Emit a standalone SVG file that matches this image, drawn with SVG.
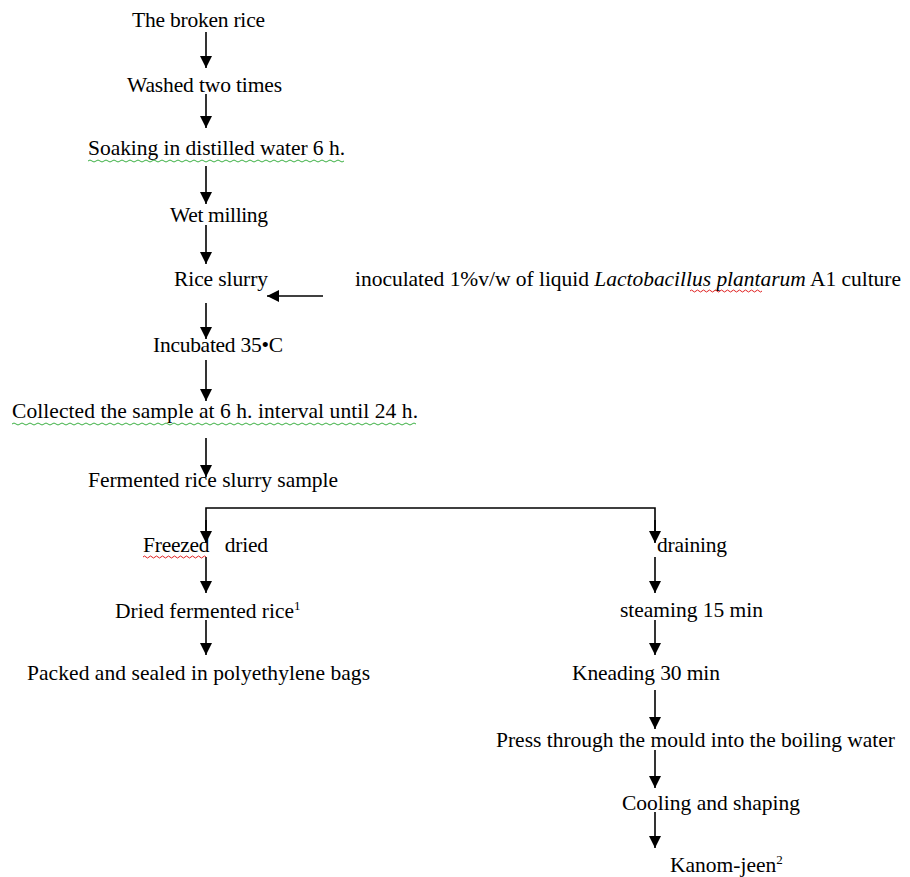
<svg xmlns="http://www.w3.org/2000/svg" width="910" height="877" viewBox="0 0 910 877">
<style>
text{font-family:"Liberation Serif","Times New Roman",serif;font-size:21.5px;fill:#000}
.c{stroke:#000;stroke-width:1.6;fill:none}
.g{stroke:#3cb043;stroke-width:1;fill:none}
.r{stroke:#e02020;stroke-width:1;fill:none}
</style>
<defs>
<marker id="ah" markerUnits="userSpaceOnUse" markerWidth="12" markerHeight="14" viewBox="0 0 12 14" refX="12" refY="7" orient="auto">
<path d="M0,1 L12,7 L0,13 Z" fill="#000"/>
</marker>
</defs>
<rect width="910" height="877" fill="#fff"/>
<g id="connectors">
<line class="c" x1="206" y1="32" x2="206" y2="68" marker-end="url(#ah)"/>
<line class="c" x1="206" y1="94" x2="206" y2="128" marker-end="url(#ah)"/>
<line class="c" x1="206" y1="166" x2="206" y2="204" marker-end="url(#ah)"/>
<line class="c" x1="206" y1="225" x2="206" y2="264" marker-end="url(#ah)"/>
<line class="c" x1="323" y1="296" x2="267" y2="296" marker-end="url(#ah)"/>
<line class="c" x1="206" y1="303" x2="206" y2="339" marker-end="url(#ah)"/>
<line class="c" x1="206" y1="360" x2="206" y2="401" marker-end="url(#ah)"/>
<line class="c" x1="206" y1="438" x2="206" y2="477" marker-end="url(#ah)"/>
<polyline class="c" points="206,542 206,508 655,508 655,542"/>
<line class="c" x1="206" y1="520" x2="206" y2="543" marker-end="url(#ah)"/>
<line class="c" x1="655" y1="520" x2="655" y2="543" marker-end="url(#ah)"/>
<line class="c" x1="206" y1="557" x2="206" y2="593" marker-end="url(#ah)"/>
<line class="c" x1="206" y1="620" x2="206" y2="655" marker-end="url(#ah)"/>
<line class="c" x1="655" y1="557" x2="655" y2="593" marker-end="url(#ah)"/>
<line class="c" x1="655" y1="620" x2="655" y2="655" marker-end="url(#ah)"/>
<line class="c" x1="655" y1="690" x2="655" y2="729" marker-end="url(#ah)"/>
<line class="c" x1="655" y1="750" x2="655" y2="788" marker-end="url(#ah)"/>
<line class="c" x1="655" y1="812" x2="655" y2="848" marker-end="url(#ah)"/>
</g>
<g id="n1"><text x="132" y="27" textLength="133">The broken rice</text></g>
<g id="n2"><text x="127" y="92" textLength="155">Washed two times</text></g>
<g id="n3"><text x="88" y="155" textLength="257">Soaking in distilled water 6 h.</text>
<path class="g" d="M88,161 q2,-2 4,0 t4,0 t4,0 t4,0 t4,0 t4,0 t4,0 t4,0 t4,0 t4,0 t4,0 t4,0 t4,0 t4,0 t4,0 t4,0 t4,0 t4,0 t4,0 t4,0 t4,0 t4,0 t4,0 t4,0 t4,0 t4,0 t4,0 t4,0 t4,0 t4,0 t4,0 t4,0 t4,0 t4,0 t4,0 t4,0 t4,0 t4,0 t4,0 t4,0 t4,0 t4,0 t4,0 t4,0 t4,0 t4,0 t4,0 t4,0 t4,0 t4,0 t4,0 t4,0 t4,0 t4,0 t4,0 t4,0 t4,0 t4,0 t4,0 t4,0 t4,0 t4,0 t4,0 t4,0"/></g>
<g id="n4"><text x="170" y="222" textLength="98">Wet milling</text></g>
<g id="n5"><text x="174" y="286" textLength="94">Rice slurry</text></g>
<g id="n6"><text x="355" y="286" textLength="546">inoculated 1%v/w of liquid <tspan font-style="italic">Lactobacillus plantarum</tspan> A1 culture</text>
<path class="r" d="M690,291 q1.5,-2 3,0 t3,0 t3,0 t3,0 t3,0 t3,0 t3,0 t3,0 t3,0 t3,0 t3,0 t3,0 t3,0 t3,0 t3,0 t3,0 t3,0 t3,0 t3,0 t3,0 t3,0 t3,0 t3,0 t3,0"/></g>
<g id="n7"><text x="153" y="352" textLength="130">Incubated 35•C</text></g>
<g id="n8"><text x="12" y="418" textLength="406">Collected the sample at 6 h. interval until 24 h.</text>
<path class="g" d="M12,424 q2,-2 4,0 t4,0 t4,0 t4,0 t4,0 t4,0 t4,0 t4,0 t4,0 t4,0 t4,0 t4,0 t4,0 t4,0 t4,0 t4,0 t4,0 t4,0 t4,0 t4,0 t4,0 t4,0 t4,0 t4,0 t4,0 t4,0 t4,0 t4,0 t4,0 t4,0 t4,0 t4,0 t4,0 t4,0 t4,0 t4,0 t4,0 t4,0 t4,0 t4,0 t4,0 t4,0 t4,0 t4,0 t4,0 t4,0 t4,0 t4,0 t4,0 t4,0 t4,0 t4,0 t4,0 t4,0 t4,0 t4,0 t4,0 t4,0 t4,0 t4,0 t4,0 t4,0 t4,0 t4,0 t4,0 t4,0 t4,0 t4,0 t4,0 t4,0 t4,0 t4,0 t4,0 t4,0 t4,0 t4,0 t4,0 t4,0 t4,0 t4,0 t4,0 t4,0 t4,0 t4,0 t4,0 t4,0 t4,0 t4,0 t4,0 t4,0 t4,0 t4,0 t4,0 t4,0 t4,0 t4,0 t4,0 t4,0 t4,0 t4,0 t4,0"/></g>
<g id="n9"><text x="88" y="487" textLength="250">Fermented rice slurry sample</text></g>
<g id="n10"><text x="143" y="552" textLength="125" xml:space="preserve">Freezed   dried</text>
<path class="r" d="M143,557 q1.5,-2 3,0 t3,0 t3,0 t3,0 t3,0 t3,0 t3,0 t3,0 t3,0 t3,0 t3,0 t3,0 t3,0 t3,0 t3,0 t3,0 t3,0 t3,0 t3,0 t3,0 t3,0"/></g>
<g id="n11"><text x="115" y="618">Dried fermented rice<tspan font-size="13" dy="-8">1</tspan></text></g>
<g id="n12"><text x="27" y="680" textLength="343">Packed and sealed in polyethylene bags</text></g>
<g id="n13"><text x="657" y="552" textLength="70">draining</text></g>
<g id="n14"><text x="620" y="617" textLength="143">steaming 15 min</text></g>
<g id="n15"><text x="572" y="680" textLength="148">Kneading 30 min</text></g>
<g id="n16"><text x="496" y="747" textLength="399">Press through the mould into the boiling water</text></g>
<g id="n17"><text x="622" y="810" textLength="178">Cooling and shaping</text></g>
<g id="n18"><text x="670" y="872">Kanom-jeen<tspan font-size="13" dy="-8">2</tspan></text></g>
</svg>
